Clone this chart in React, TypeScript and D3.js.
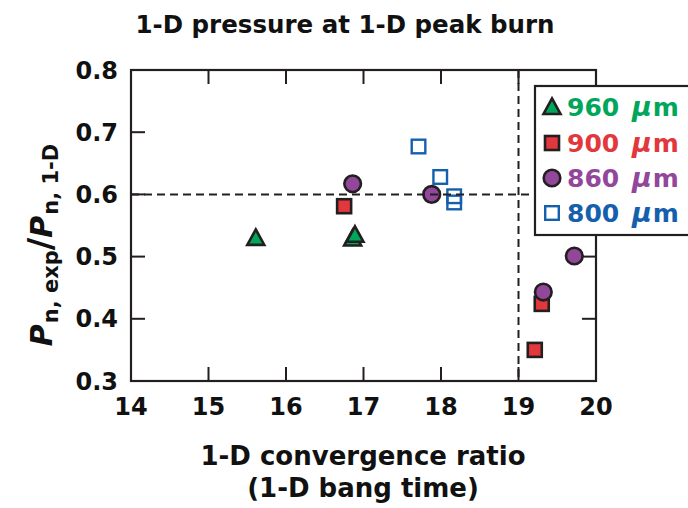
import React from "react";
import * as d3 from "d3";

const xTicks = [14, 15, 16, 17, 18, 19, 20];
const yTicks = [0.3, 0.4, 0.5, 0.6, 0.7, 0.8];
const yTickLabels = ["0.3", "0.4", "0.5", "0.6", "0.7", "0.8"];

const tri960X = [15.61, 16.86, 16.89];
const tri960Y = [0.53, 0.529, 0.535];
const sq900X = [16.75, 19.3, 19.21];
const sq900Y = [0.581, 0.424, 0.35];
const circ860X = [16.86, 17.88, 19.32, 19.72];
const circ860Y = [0.617, 0.6, 0.443, 0.501];
const open800X = [17.71, 17.99, 18.17, 18.17];
const open800Y = [0.677, 0.628, 0.597, 0.587];

const legendLabels = ["960", "900", "860", "800"];
const refX = 19;
const refY = 0.6;

const GREEN = "#00a65a";
const RED = "#e2383d";
const PURPLE = "#93479b";
const BLUE = "#1560ad";
const INK = "#231f20";
const FONT = "'DejaVu Sans', sans-serif";

const L = 131, R = 596, T = 70, B = 381;

const x = d3.scaleLinear().domain([14, 20]).range([L, R]);
const y = d3.scaleLinear().domain([0.3, 0.8]).range([B, T]);

function triPath(cx: number, cy: number) {
  const w = 17, h = 15.5;
  return `M${cx},${cy - h * 0.55}L${cx + w / 2},${cy + h * 0.45}L${cx - w / 2},${cy + h * 0.45}Z`;
}

function Marker({ kind, cx, cy }: { kind: string; cx: number; cy: number }) {
  if (kind === "tri")
    return <path d={triPath(cx, cy)} fill={GREEN} stroke={INK} strokeWidth={2.6} strokeLinejoin="miter" />;
  if (kind === "sq")
    return <rect x={cx - 7} y={cy - 7} width={14} height={14} fill={RED} stroke={INK} strokeWidth={2.6} />;
  if (kind === "circ")
    return <circle cx={cx} cy={cy} r={8.3} fill={PURPLE} stroke={INK} strokeWidth={2.6} />;
  return <rect x={cx - 6.8} y={cy - 6.8} width={13.6} height={13.6} fill="none" stroke={BLUE} strokeWidth={2.4} />;
}

export default function App() {
  const tickLen = 14;
  const legendKinds = ["tri", "sq", "circ", "open"];
  const legendColors = [GREEN, RED, PURPLE, BLUE];
  const legendY = [107, 143, 178, 213];
  return (
    <svg width={688} height={508} style={{ position: "absolute", left: 0, top: 0, background: "#fff" }} fontFamily={FONT}>
      <rect width={688} height={508} fill="#fff" />
      <text x={345} y={33} textAnchor="middle" fontSize={24.5} fontWeight="bold" fill="#111">
        1-D pressure at 1-D peak burn
      </text>

      {/* ticks */}
      {xTicks.slice(1, -1).map((t) => (
        <g key={"xt" + t}>
          <line x1={x(t)} x2={x(t)} y1={B} y2={B - tickLen} stroke={INK} strokeWidth={2} />
          <line x1={x(t)} x2={x(t)} y1={T} y2={T + tickLen} stroke={INK} strokeWidth={2} />
        </g>
      ))}
      {yTicks.slice(1, -1).map((t) => (
        <g key={"yt" + t}>
          <line x1={L} x2={L + tickLen} y1={y(t)} y2={y(t)} stroke={INK} strokeWidth={2} />
          <line x1={R} x2={R - tickLen} y1={y(t)} y2={y(t)} stroke={INK} strokeWidth={2} />
        </g>
      ))}
      <rect x={L} y={T} width={R - L} height={B - T} fill="none" stroke={INK} strokeWidth={2.2} />

      {xTicks.map((t) => (
        <text key={"xl" + t} x={x(t)} y={415} textAnchor="middle" fontSize={24} fontWeight="bold" fill="#111">
          {t}
        </text>
      ))}
      {yTicks.map((t, i) => (
        <text key={"yl" + t} x={118} y={y(t)} dy="0.36em" textAnchor="end" fontSize={24} fontWeight="bold" fill="#111">
          {yTickLabels[i]}
        </text>
      ))}

      {/* data */}
      {tri960X.map((v, i) => (
        <Marker key={"a" + i} kind="tri" cx={x(v)} cy={y(tri960Y[i])} />
      ))}
      {sq900X.map((v, i) => (
        <Marker key={"b" + i} kind="sq" cx={x(v)} cy={y(sq900Y[i])} />
      ))}
      {circ860X.map((v, i) => (
        <Marker key={"c" + i} kind="circ" cx={x(v)} cy={y(circ860Y[i])} />
      ))}
      {open800X.map((v, i) => (
        <Marker key={"d" + i} kind="open" cx={x(v)} cy={y(open800Y[i])} />
      ))}

      {/* reference lines */}
      <line x1={L} x2={R} y1={y(refY)} y2={y(refY)} stroke={INK} strokeWidth={2} strokeDasharray="8,5" />
      <line x1={x(refX)} x2={x(refX)} y1={T} y2={B} stroke={INK} strokeWidth={2} strokeDasharray="8,5" />

      {/* legend */}
      <rect x={535} y={86} width={170} height={149} fill="#fff" stroke={INK} strokeWidth={2.2} />
      {legendLabels.map((lab, i) => (
        <g key={"lg" + i}>
          {legendKinds[i] === "open" ? (
            <rect x={552 - 6.8} y={legendY[i] - 6.8} width={13.6} height={13.6} fill="#fff" stroke={BLUE} strokeWidth={2.4} />
          ) : (
            <Marker kind={legendKinds[i]} cx={552} cy={legendY[i]} />
          )}
          <text x={567} y={legendY[i]} dy="0.36em" fontSize={25} fontWeight="bold" fill={legendColors[i]}>
            {lab + " "}
            <tspan fontStyle="italic" fontSize={27} dx={4}>µ</tspan>
            <tspan dx={1}>m</tspan>
          </text>
        </g>
      ))}

      {/* axis titles */}
      <text x={363} y={465} textAnchor="middle" fontSize={26} fontWeight="bold" fill="#111">
        1-D convergence ratio
      </text>
      <text x={363} y={497} textAnchor="middle" fontSize={26} fontWeight="bold" fill="#111">
        (1-D bang time)
      </text>

      <text transform="translate(52,245) rotate(-90)" textAnchor="middle" fontWeight="bold" fill="#111">
        <tspan fontSize={30} fontStyle="italic">P</tspan>
        <tspan fontSize={21} dy={6} dx={1}>n, exp</tspan>
        <tspan fontSize={34} dy={-6}>/</tspan>
        <tspan fontSize={30} fontStyle="italic">P</tspan>
        <tspan fontSize={21} dy={6} dx={1}>n, 1-D</tspan>
      </text>
    </svg>
  );
}
